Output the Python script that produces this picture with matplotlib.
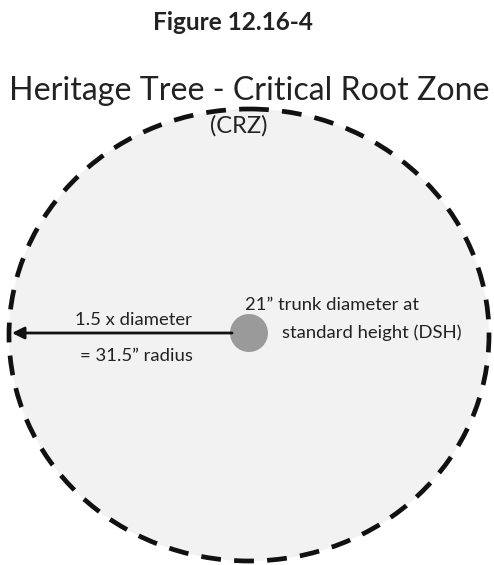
import matplotlib.pyplot as plt
from matplotlib.patches import Ellipse, Circle

# values shown on the figure
trunk_diameter = 21      # inches
crz_multiplier = 1.5
crz_radius = trunk_diameter * crz_multiplier  # 31.5

figure_label = "Figure 12.16-4"
title = "Heritage Tree - Critical Root Zone"
subtitle = "(CRZ)"
arrow_top = f"{crz_multiplier} x diameter"
arrow_bottom = f"= {crz_radius}\u201d radius"
trunk_line1 = f"{trunk_diameter}\u201d trunk diameter at"
trunk_line2 = "standard height (DSH)"

plt.rcParams['font.family'] = ['Lato', 'DejaVu Sans']

fig = plt.figure(figsize=(4.94, 5.65), dpi=100)
ax = fig.add_axes([0, 0, 1, 1])
ax.set_xlim(0, 494)
ax.set_ylim(565, 0)
ax.axis('off')

# critical root zone
zone = Ellipse((249, 335), 480, 452, facecolor='#f2f2f2', edgecolor='#111111',
               lw=3.4, linestyle=(0, (4.2, 2.8)))
ax.add_patch(zone)

# trunk
ax.add_patch(Circle((249, 333), 19, facecolor='#9a9a9a', edgecolor='none', zorder=3))

# radius arrow
ax.annotate('', xy=(12, 333), xytext=(232, 333),
            arrowprops=dict(arrowstyle='-|>', color='#111111', lw=2,
                            mutation_scale=18, shrinkA=0, shrinkB=0))

ax.text(233, 22, figure_label, ha='center', va='center', fontsize=17.6,
        fontweight='bold', color='#222222')
ax.text(249, 91, title, ha='center', va='center', fontsize=23.1, color='#222222')
ax.text(239, 126, subtitle, ha='center', va='center', fontsize=17, color='#222222')

ax.text(133, 320, arrow_top, ha='center', va='center', fontsize=13.3, color='#222222')
ax.text(136, 356, arrow_bottom, ha='center', va='center', fontsize=13.3, color='#222222')
ax.text(332, 305, trunk_line1, ha='center', va='center', fontsize=13.3, color='#222222')
ax.text(372, 333, trunk_line2, ha='center', va='center', fontsize=13.3, color='#222222')

fig.savefig('out.png', dpi=100)
